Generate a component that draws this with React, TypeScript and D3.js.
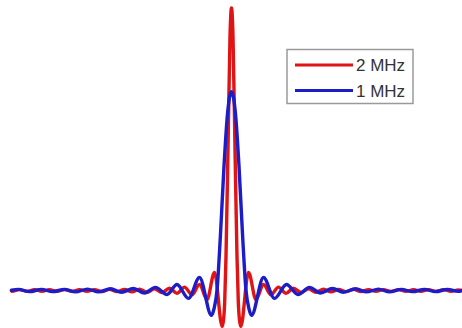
import React, { useEffect, useRef } from "react";
import * as d3 from "d3";

// pulse profiles: time offset (arb. units) and normalised amplitude
const redTime = [
  -2.2, -2.195, -2.12, -2.045, -1.97, -1.895, -1.82, -1.745, -1.67, -1.595, -1.52, -1.445, -1.37,
  -1.295, -1.22, -1.145, -1.07, -0.995, -0.92, -0.845, -0.77, -0.695, -0.62, -0.545, -0.47,
  -0.395, -0.32, -0.245, -0.17, -0.093, -0.08, -0.068, -0.055, -0.035, -0.015, 0,
  0.015, 0.035, 0.055, 0.068, 0.08, 0.093, 0.17, 0.245, 0.32, 0.395, 0.47, 0.545, 0.62, 0.695,
  0.77, 0.845, 0.92, 0.995, 1.07, 1.145, 1.22, 1.295, 1.37, 1.445, 1.52, 1.595, 1.67, 1.745,
  1.82, 1.895, 1.97, 2.045, 2.12, 2.195, 2.27, 2.3,
];
const redValue = [
  -0.001, -0.003, 0.003, -0.003, 0.003, -0.003, 0.003, -0.003, 0.003, -0.003, 0.003, -0.003, 0.003,
  -0.004, 0.004, -0.004, 0.004, -0.005, 0.005, -0.006, 0.006, -0.007, 0.008, -0.01, 0.012,
  -0.015, 0.021, -0.032, 0.064, -0.127, -0.105, -0.04, 0.12, 0.5, 0.9, 1.0,
  0.9, 0.5, 0.12, -0.04, -0.105, -0.127, 0.064, -0.032, 0.021, -0.015, 0.012, -0.01, 0.008, -0.007,
  0.006, -0.006, 0.005, -0.005, 0.004, -0.004, 0.004, -0.004, 0.003, -0.003, 0.003, -0.003, 0.003, -0.003,
  0.003, -0.003, 0.003, -0.003, 0.003, -0.003, 0.002, 0.0,
];

const blueTime = [
  -2.2, -2.13, -2.02, -1.9, -1.79, -1.67, -1.56, -1.44, -1.33, -1.21, -1.1, -0.98, -0.87,
  -0.76, -0.645, -0.545, -0.43, -0.32, -0.2, -0.175, -0.145, -0.11, -0.075, -0.04, 0,
  0.04, 0.075, 0.11, 0.145, 0.175, 0.2, 0.32, 0.43, 0.55, 0.665, 0.78, 0.89, 1.01, 1.12,
  1.24, 1.35, 1.47, 1.58, 1.7, 1.81, 1.93, 2.04, 2.16, 2.27, 2.3,
];
const blueValue = [
  0.001, 0.004, -0.004, 0.004, -0.004, 0.004, -0.005, 0.005, -0.005, 0.006, -0.006, 0.007, -0.009,
  0.011, -0.014, 0.021, -0.028, 0.046, -0.088, -0.065, 0.0, 0.2, 0.44, 0.625, 0.704,
  0.625, 0.44, 0.2, 0.0, -0.065, -0.088, 0.046, -0.028, 0.021, -0.014, 0.011, -0.009, 0.007, -0.006,
  0.006, -0.005, 0.005, -0.005, 0.004, -0.004, 0.004, -0.004, 0.004, -0.003, 0.0,
];

const seriesNames = ["2 MHz", "1 MHz"];
const seriesColors = ["#e01414", "#1c1cc8"];

export default function App() {
  const ref = useRef<SVGSVGElement>(null);

  useEffect(() => {
    if (!ref.current) return;
    const width = 462;
    const height = 328;

    const svg = d3.select(ref.current);
    svg.selectAll("*").remove();
    svg.attr("width", width).attr("height", height);

    const x = d3.scaleLinear().domain([-2.2, 2.3]).range([11.5, 461.5]);
    const y = d3.scaleLinear().domain([0, 1]).range([290.5, 8]);

    const line = d3
      .line<[number, number]>()
      .x((d) => x(d[0]))
      .y((d) => y(d[1]))
      .curve(d3.curveMonotoneX);

    const red: [number, number][] = redTime.map((t, i) => [t, redValue[i]]);
    const blue: [number, number][] = blueTime.map((t, i) => [t, blueValue[i]]);

    // red first, blue on top
    [red, blue].forEach((pts, i) => {
      svg
        .append("path")
        .datum(pts)
        .attr("d", line)
        .attr("fill", "none")
        .attr("stroke", seriesColors[i])
        .attr("stroke-width", 3.4)
        .attr("stroke-linejoin", "round")
        .attr("stroke-linecap", "round");
    });

    // legend
    const lg = svg.append("g").attr("transform", "translate(287,49.5)");
    lg.append("rect")
      .attr("width", 126)
      .attr("height", 54)
      .attr("fill", "#fff")
      .attr("stroke", "#9a9a9a")
      .attr("stroke-width", 1.5);

    seriesNames.forEach((name, i) => {
      const row = lg.append("g").attr("transform", `translate(0,${15.5 + i * 25.5})`);
      row.append("line")
        .attr("x1", 8)
        .attr("x2", 66)
        .attr("stroke", seriesColors[i])
        .attr("stroke-width", 3);
      row.append("text")
        .attr("x", 69)
        .attr("y", 0)
        .attr("dy", "0.36em")
        .attr("font-family", "Liberation Sans, Arial, sans-serif")
        .attr("font-size", 17)
        .attr("fill", "#333")
        .text(name);
    });
  }, []);

  return (
    <svg
      ref={ref}
      style={{ position: "absolute", left: 0, top: 0, background: "#fff" }}
    />
  );
}
